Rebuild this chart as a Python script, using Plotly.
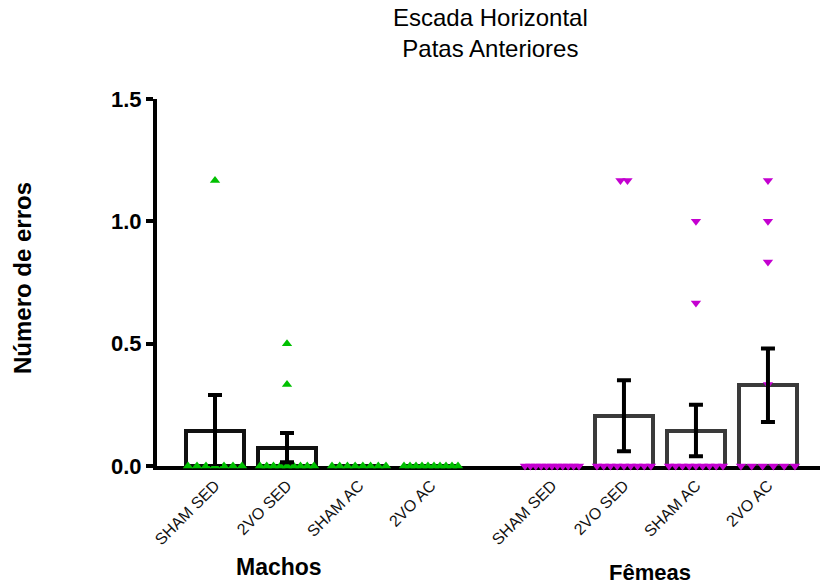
import plotly.graph_objects as go
from collections import Counter

# ---- data ----
categories = ["SHAM SED", "2VO SED", "SHAM AC", "2VO AC"]
groups = ["Machos", "Fêmeas"]

# bar means and SEM
means_machos = [0.145, 0.075, 0.0, 0.0]
sem_machos = [0.145, 0.060, 0.0, 0.0]
means_femeas = [0.0, 0.205, 0.145, 0.33]
sem_femeas = [0.0, 0.145, 0.105, 0.15]

# individual animals
pts_machos = [
    [1.1667, 0, 0, 0, 0, 0, 0, 0],
    [0.5, 0.3333, 0, 0, 0, 0, 0, 0, 0, 0, 0],
    [0, 0, 0, 0, 0, 0, 0, 0],
    [0, 0, 0, 0, 0, 0, 0, 0, 0, 0],
]
pts_femeas = [
    [0, 0, 0, 0, 0, 0, 0, 0, 0, 0, 0],
    [1.1667, 1.1667, 0, 0, 0, 0, 0, 0, 0, 0, 0],
    [1.0, 0.6667, 0, 0, 0, 0, 0, 0, 0, 0, 0],
    [1.1667, 1.0, 0.8333, 0.3333, 0, 0, 0, 0, 0, 0],
]

yticks = [0, 0.5, 1.0, 1.5]
yticklabels = ["0.0", "0.5", "1.0", "1.5"]

# ---- layout helpers ----
FONT = "Liberation Sans, Arial, sans-serif"
L, R, T, B = 157, 0, 99, 122
W, H = 820, 588
UNIT = 72.0  # px per category slot
GAP = 0.68   # extra gap between the two groups (in slots)
x_m = [i for i in range(4)]
x_f = [i + 4 + GAP for i in range(4)]
xmin = (157 - 215) / UNIT
xmax = xmin + (W - L - R) / UNIT


def spread(xc, vals):
    xs, ys = [], []
    cnt = Counter(vals)
    for v, k in cnt.items():
        if k == 1:
            offs = [0.0]
        else:
            sp = 54.0 / (k - 1) if k >= 4 else 7.0
            offs = [(j - (k - 1) / 2) * sp for j in range(k)]
        for o in offs:
            xs.append(xc + o / UNIT)
            ys.append(v)
    return xs, ys


fig = go.Figure()

bar_x = x_m + x_f
bar_y = means_machos + means_femeas
bar_lc = ["#111111"] * 4 + ["#3a3a3a"] * 4
fig.add_trace(go.Bar(
    x=bar_x, y=bar_y, width=0.8,
    marker=dict(color="rgba(0,0,0,0)", line=dict(color=bar_lc, width=4)),
    cliponaxis=False, showlegend=False, hoverinfo="skip",
))

for xs0, pts, sym, col in [(x_m, pts_machos, "triangle-up", "#00c000"),
                           (x_f, pts_femeas, "triangle-down", "#c400d0")]:
    X, Y = [], []
    for xc, vals in zip(xs0, pts):
        a, b = spread(xc, vals)
        X += a
        Y += b
    fig.add_trace(go.Scatter(
        x=X, y=Y, mode="markers",
        marker=dict(symbol=sym, size=9, color=col, line=dict(width=0)),
        cliponaxis=False, showlegend=False, hoverinfo="skip",
    ))

ex, ey, ee = [], [], []
for xc, m, s in zip(bar_x, bar_y, sem_machos + sem_femeas):
    if s > 0:
        ex.append(xc); ey.append(m); ee.append(s)
fig.add_trace(go.Scatter(
    x=ex, y=ey, mode="markers",
    marker=dict(size=1, color="rgba(0,0,0,0)"),
    error_y=dict(type="data", array=ee, visible=True, color="black",
                 thickness=4, width=7),
    cliponaxis=False, showlegend=False, hoverinfo="skip",
))

fig.update_layout(
    width=W, height=H,
    margin=dict(l=L, r=R, t=T, b=B, autoexpand=False),
    paper_bgcolor="white", plot_bgcolor="white",
    font=dict(family=FONT, color="black"),
    bargap=0,
    xaxis=dict(
        range=[xmin, xmax], showgrid=False, zeroline=False,
        showline=True, linecolor="black", linewidth=4,
        tickvals=bar_x, ticktext=categories + categories,
        tickangle=-45, ticks="", tickfont=dict(size=16, family=FONT, color="#111111"),
        layer="below traces", fixedrange=True,
    ),
    yaxis=dict(
        range=[0, 1.5], showgrid=False, zeroline=False,
        showline=True, linecolor="black", linewidth=4,
        tickvals=yticks, ticktext=yticklabels,
        ticks="outside", ticklen=7, tickwidth=4, tickcolor="black",
        tickfont=dict(size=22, family=FONT, weight="bold", color="black"),
        layer="below traces", fixedrange=True,
    ),
    annotations=[
        dict(text="Escada Horizontal<br>Patas Anteriores", xref="paper", yref="paper",
             x=(490 - L) / (W - L - R), y=(H - B - 33) / (H - T - B),
             xanchor="center", yanchor="middle", showarrow=False,
             font=dict(size=24, family=FONT, color="black")),
        dict(text="Número de erros", xref="paper", yref="paper",
             x=(22 - L) / (W - L - R), y=(H - B - 278) / (H - T - B),
             xanchor="center", yanchor="middle", textangle=-90, showarrow=False,
             font=dict(size=24, family=FONT, weight="bold", color="black")),
        dict(text=groups[0], xref="paper", yref="paper",
             x=(279 - L) / (W - L - R), y=(H - B - 567) / (H - T - B),
             xanchor="center", yanchor="middle", showarrow=False,
             font=dict(size=23, family=FONT, weight="bold", color="black")),
        dict(text=groups[1], xref="paper", yref="paper",
             x=(650 - L) / (W - L - R), y=(H - B - 572) / (H - T - B),
             xanchor="center", yanchor="middle", showarrow=False,
             font=dict(size=22, family=FONT, weight="bold", color="black")),
    ],
)

fig.write_html("out.html")
